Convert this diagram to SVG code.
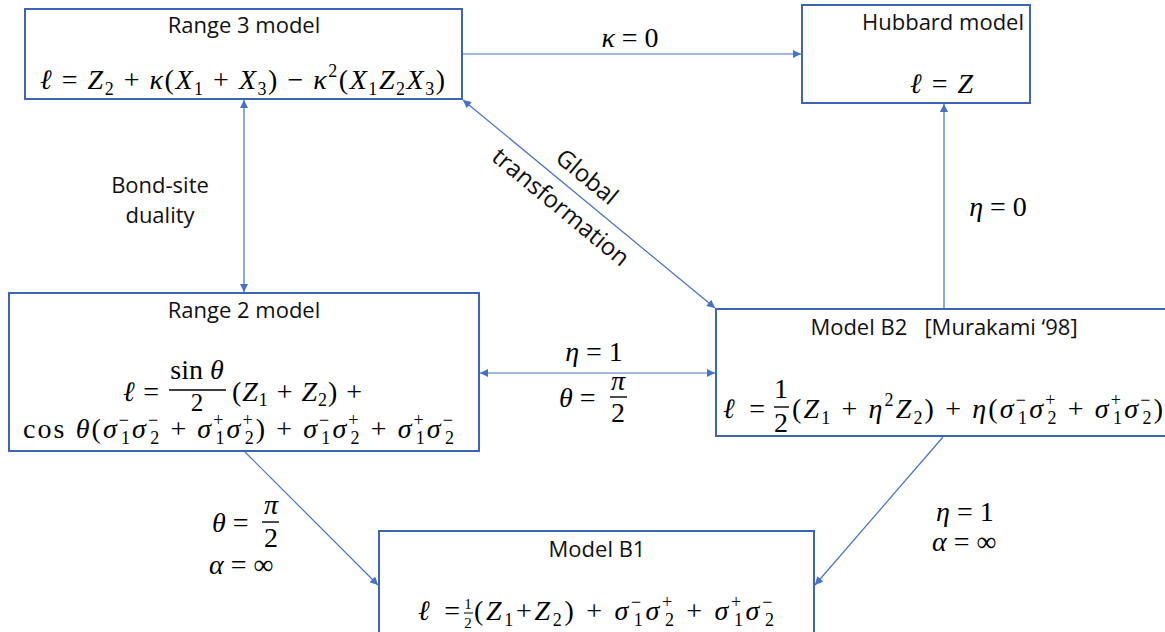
<svg xmlns="http://www.w3.org/2000/svg" width="1165" height="632" viewBox="0 0 1165 632">
<style>
.box{fill:#fff;stroke:#3C66B5;stroke-width:2}
.con{stroke:#4472C4;stroke-width:1.2;fill:none}
.t{font-family:"Open Sans","Noto Sans",sans-serif;font-size:22px;fill:#111}
.m{font-family:"Liberation Serif","DejaVu Serif",serif;font-size:28px;fill:#000}
.i{font-style:italic}
.s{font-size:18px}
.bar{stroke:#000;stroke-width:1.4}
</style>
<defs>
<marker id="ae" viewBox="0 0 10 10" refX="10" refY="5" markerWidth="9" markerHeight="8" markerUnits="userSpaceOnUse" orient="auto"><path d="M0,0 L10,5 L0,10 z" fill="#4472C4"/></marker>
<marker id="as" viewBox="0 0 10 10" refX="0" refY="5" markerWidth="9" markerHeight="8" markerUnits="userSpaceOnUse" orient="auto"><path d="M10,0 L0,5 L10,10 z" fill="#4472C4"/></marker>
</defs>
<rect width="1165" height="632" fill="#fff"/>

<g id="connectors">
<line class="con" x1="462" y1="54" x2="801" y2="54" marker-end="url(#ae)"/>
<line class="con" x1="244" y1="100" x2="244" y2="292" marker-start="url(#as)" marker-end="url(#ae)"/>
<line class="con" x1="463" y1="100" x2="715" y2="308" marker-start="url(#as)" marker-end="url(#ae)"/>
<line class="con" x1="944" y1="309" x2="944" y2="104" marker-end="url(#ae)"/>
<line class="con" x1="480" y1="373" x2="715" y2="373" marker-start="url(#as)" marker-end="url(#ae)"/>
<line class="con" x1="245" y1="452" x2="378" y2="585" marker-end="url(#ae)"/>
<line class="con" x1="943" y1="437" x2="815" y2="585" marker-end="url(#ae)"/>
<g id="labels">
<text class="m" x="630" y="47" text-anchor="middle"><tspan class="i">κ</tspan> = 0</text>
<text class="t" x="160" y="193" text-anchor="middle">Bond-site</text>
<text class="t" x="160" y="223" text-anchor="middle">duality</text>
<g transform="translate(574,191) rotate(39.6)">
<text class="t" x="1" y="-11" text-anchor="middle" style="font-size:24px">Global</text>
<text class="t" x="0" y="29" text-anchor="middle" style="font-size:24px">transformation</text>
</g>
<text class="m" x="998" y="216" text-anchor="middle"><tspan class="i">η</tspan> = 0</text>
<text class="m" x="594" y="361" text-anchor="middle"><tspan class="i">η</tspan> = 1</text>
<text class="m" x="559" y="407"><tspan class="i">θ</tspan> =</text>
<text class="m i" x="618" y="390" text-anchor="middle">π</text>
<line class="bar" x1="610" y1="397" x2="627" y2="397"/>
<text class="m" x="618" y="422" text-anchor="middle">2</text>
<text class="m" x="212" y="532"><tspan class="i">θ</tspan> =</text>
<text class="m i" x="271" y="514" text-anchor="middle">π</text>
<line class="bar" x1="262" y1="522" x2="279" y2="522"/>
<text class="m" x="271" y="547" text-anchor="middle">2</text>
<text class="m" x="209" y="574"><tspan class="i">α</tspan> = ∞</text>
<text class="m" x="936" y="521"><tspan class="i">η</tspan> = 1</text>
<text class="m" x="932" y="551"><tspan class="i">α</tspan> = ∞</text>
</g>
</g>

<g id="range3">
<rect class="box" x="25" y="9" width="437" height="90"/>
<text class="t" x="244" y="33" text-anchor="middle">Range 3 model</text>
<text class="m" x="40" y="89" textLength="405" lengthAdjust="spacing"><tspan class="i">ℓ</tspan> = <tspan class="i">Z</tspan><tspan class="s" dy="6">2</tspan><tspan dy="-6"> + </tspan><tspan class="i">κ</tspan>(<tspan class="i">X</tspan><tspan class="s" dy="6">1</tspan><tspan dy="-6"> + </tspan><tspan class="i">X</tspan><tspan class="s" dy="6">3</tspan><tspan dy="-6">) − </tspan><tspan class="i">κ</tspan><tspan class="s" dy="-12">2</tspan><tspan dy="12">(</tspan><tspan class="i">X</tspan><tspan class="s" dy="6">1</tspan><tspan class="i" dy="-6">Z</tspan><tspan class="s" dy="6">2</tspan><tspan class="i" dy="-6">X</tspan><tspan class="s" dy="6">3</tspan><tspan dy="-6">)</tspan></text>
</g>

<g id="hubbard">
<rect class="box" x="802" y="5" width="228" height="98"/>
<text class="t" x="943" y="30" text-anchor="middle">Hubbard model</text>
<text class="m" x="910" y="93" textLength="63" lengthAdjust="spacing"><tspan class="i">ℓ</tspan> = <tspan class="i">Z</tspan></text>
</g>

<g id="range2">
<rect class="box" x="9" y="293" width="470" height="158"/>
<text class="t" x="244" y="318" text-anchor="middle">Range 2 model</text>
<text class="m" x="123" y="401" textLength="36" lengthAdjust="spacing"><tspan class="i">ℓ</tspan> =</text>
<text class="m" x="197" y="379" text-anchor="middle">sin <tspan class="i">θ</tspan></text>
<line class="bar" x1="169" y1="390" x2="226" y2="390"/>
<text class="m" x="197" y="411" text-anchor="middle" style="font-size:25px">2</text>
<text class="m" x="232" y="401" textLength="130" lengthAdjust="spacing">(<tspan class="i">Z</tspan><tspan class="s" dy="5">1</tspan><tspan dy="-5"> + </tspan><tspan class="i">Z</tspan><tspan class="s" dy="5">2</tspan><tspan dy="-5">) +</tspan></text>
<text class="m" x="23" y="438" textLength="432" lengthAdjust="spacing">cos <tspan class="i">θ</tspan>(<tspan class="i">σ</tspan><tspan class="s" dy="-12">−</tspan><tspan class="s" dx="-10" dy="18">1</tspan><tspan class="i" dy="-6">σ</tspan><tspan class="s" dy="-12">−</tspan><tspan class="s" dx="-10" dy="18">2</tspan><tspan dy="-6"> + </tspan><tspan class="i">σ</tspan><tspan class="s" dy="-12">+</tspan><tspan class="s" dx="-10" dy="18">1</tspan><tspan class="i" dy="-6">σ</tspan><tspan class="s" dy="-12">+</tspan><tspan class="s" dx="-10" dy="18">2</tspan><tspan dy="-6">) + </tspan><tspan class="i">σ</tspan><tspan class="s" dy="-12">−</tspan><tspan class="s" dx="-10" dy="18">1</tspan><tspan class="i" dy="-6">σ</tspan><tspan class="s" dy="-12">+</tspan><tspan class="s" dx="-10" dy="18">2</tspan><tspan dy="-6"> + </tspan><tspan class="i">σ</tspan><tspan class="s" dy="-12">+</tspan><tspan class="s" dx="-10" dy="18">1</tspan><tspan class="i" dy="-6">σ</tspan><tspan class="s" dy="-12">−</tspan><tspan class="s" dx="-10" dy="18">2</tspan></text>
</g>

<g id="modelB2">
<rect class="box" x="716" y="309" width="460" height="127"/>
<text class="t" x="944" y="335" text-anchor="middle" xml:space="preserve">Model B2   [Murakami ‘98]</text>
<text class="m" x="723" y="418" textLength="42" lengthAdjust="spacing"><tspan class="i">ℓ</tspan> =</text>
<text class="m" x="781" y="398" text-anchor="middle">1</text>
<line class="bar" x1="774" y1="407" x2="789" y2="407"/>
<text class="m" x="781" y="432" text-anchor="middle">2</text>
<text class="m" x="792" y="418" textLength="371" lengthAdjust="spacing">(<tspan class="i">Z</tspan><tspan class="s" dy="6">1</tspan><tspan dy="-6"> + </tspan><tspan class="i">η</tspan><tspan class="s" dy="-12">2</tspan><tspan class="i" dy="12">Z</tspan><tspan class="s" dy="6">2</tspan><tspan dy="-6">) + </tspan><tspan class="i">η</tspan>(<tspan class="i">σ</tspan><tspan class="s" dy="-12">−</tspan><tspan class="s" dx="-10" dy="18">1</tspan><tspan class="i" dy="-6">σ</tspan><tspan class="s" dy="-12">+</tspan><tspan class="s" dx="-10" dy="18">2</tspan><tspan dy="-6"> + </tspan><tspan class="i">σ</tspan><tspan class="s" dy="-12">+</tspan><tspan class="s" dx="-10" dy="18">1</tspan><tspan class="i" dy="-6">σ</tspan><tspan class="s" dy="-12">−</tspan><tspan class="s" dx="-10" dy="18">2</tspan><tspan dy="-6">)</tspan></text>
</g>

<g id="modelB1">
<rect class="box" x="379" y="531" width="435" height="110"/>
<text class="t" x="597" y="557" text-anchor="middle">Model B1</text>
<text class="m" x="418" y="620" textLength="42" lengthAdjust="spacing"><tspan class="i">ℓ</tspan> =</text>
<text class="m" x="468" y="609" text-anchor="middle" style="font-size:15px">1</text>
<line class="bar" x1="464" y1="613" x2="473" y2="613" style="stroke-width:1"/>
<text class="m" x="468" y="628" text-anchor="middle" style="font-size:15px">2</text>
<text class="m" x="474" y="620" textLength="301" lengthAdjust="spacing">(<tspan class="i">Z</tspan><tspan class="s" dy="6">1</tspan><tspan dy="-6">+</tspan><tspan class="i">Z</tspan><tspan class="s" dy="6">2</tspan><tspan dy="-6">) + </tspan><tspan class="i">σ</tspan><tspan class="s" dy="-12">−</tspan><tspan class="s" dx="-10" dy="18">1</tspan><tspan class="i" dy="-6">σ</tspan><tspan class="s" dy="-12">+</tspan><tspan class="s" dx="-10" dy="18">2</tspan><tspan dy="-6"> + </tspan><tspan class="i">σ</tspan><tspan class="s" dy="-12">+</tspan><tspan class="s" dx="-10" dy="18">1</tspan><tspan class="i" dy="-6">σ</tspan><tspan class="s" dy="-12">−</tspan><tspan class="s" dx="-10" dy="18">2</tspan></text>
</g>
</svg>
